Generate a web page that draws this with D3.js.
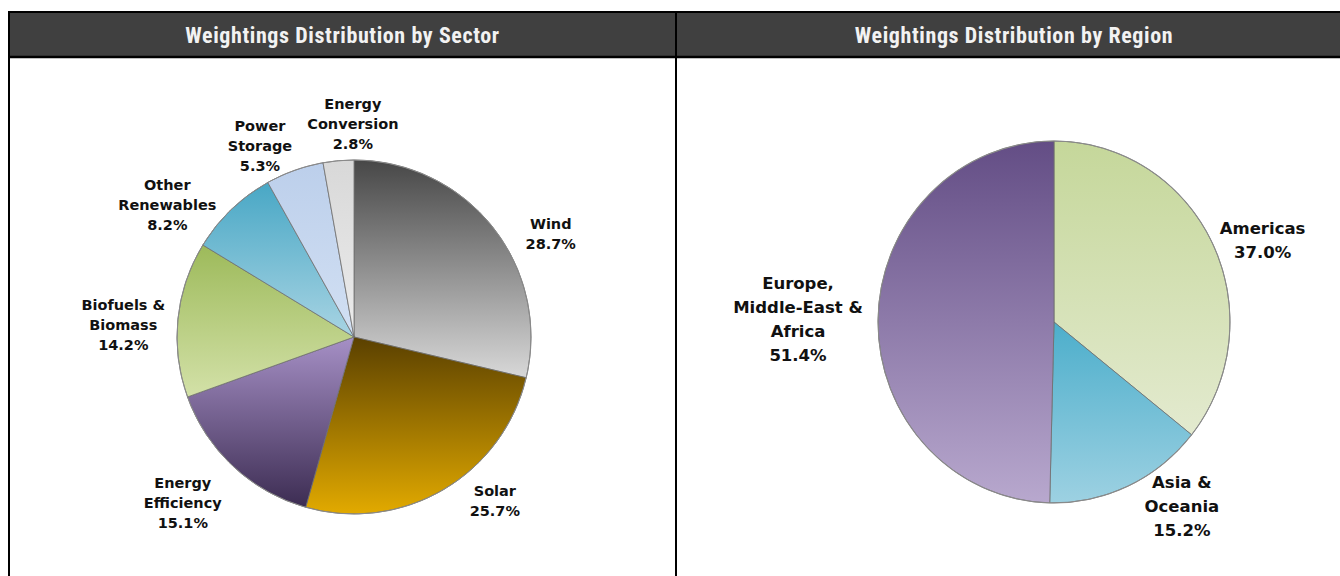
<!DOCTYPE html>
<html><head><meta charset="utf-8">
<script src="https://cdn.jsdelivr.net/npm/d3@7"></script>
<style>
html,body{margin:0;padding:0;background:#fff;}
svg{display:block;}
</style></head>
<body>
<svg id="c" width="1340" height="576"></svg>
<script>
// ---- data ----
const sectorNames = ["Wind","Solar","Energy Efficiency","Biofuels & Biomass","Other Renewables","Power Storage","Energy Conversion"];
const sectorLabelLines = [["Wind"],["Solar"],["Energy","Efficiency"],["Biofuels &","Biomass"],["Other","Renewables"],["Power","Storage"],["Energy","Conversion"]];
const sectorValues = [28.7,25.7,15.1,14.2,8.2,5.3,2.8];

const regionNames = ["Americas","Asia & Oceania","Europe, Middle-East & Africa"];
const regionLabelLines = [["Americas"],["Asia &","Oceania"],["Europe,","Middle-East &","Africa"]];
const regionValues = [37.0,15.2,51.4];

const titles = ["Weightings Distribution by Sector","Weightings Distribution by Region"];

// ---- styles / layout ----
const sectorColors = [["#474747","#d8d8d8"],["#5a4000","#e2aa00"],["#a690c6","#3c2c52"],["#9dba5a","#d3e1a8"],["#48a7c5","#a8d4e3"],["#bccfeb","#d2e0f3"],["#d8d8d8","#ececec"]];
const regionColors = [["#c5d79a","#e3eacf"],["#4caecb","#9dd1e2"],["#634d85","#b8a8ce"]];
// label block centre in polar form: [angle deg clockwise from north, distance px]
const sectorLabelPolar = [[62.4,222],[139.3,216],[226,238],[273,231],[305.4,229],[333.8,213],[359.7,213]];
const regionLabelPolar = [[68.6,224],[145.2,224],[270.7,256]];

const svg = d3.select("#c");
const defs = svg.append("defs");

// frame
const frame = svg.append("g");
frame.append("rect").attr("x",9).attr("y",12).attr("width",1345).attr("height",45).attr("fill","#404040");
frame.append("line").attr("x1",9).attr("x2",1354).attr("y1",12).attr("y2",12).attr("stroke","#000").attr("stroke-width",2);
frame.append("line").attr("x1",9).attr("x2",1354).attr("y1",57).attr("y2",57).attr("stroke","#000").attr("stroke-width",2.5);
frame.append("line").attr("x1",9).attr("x2",9).attr("y1",11).attr("y2",576).attr("stroke","#000").attr("stroke-width",2);
frame.append("line").attr("x1",676).attr("x2",676).attr("y1",11).attr("y2",576).attr("stroke","#000").attr("stroke-width",2);
frame.selectAll("text.title").data(titles).join("text")
  .attr("class","title")
  .attr("x",(d,i)=> i===0 ? 342.5 : 1014)
  .attr("y",43)
  .attr("text-anchor","middle")
  .attr("fill","#f2f2f2")
  .attr("font-family","'Liberation Sans Narrow','Arial Narrow','Roboto Condensed','Liberation Sans',sans-serif")
  .attr("font-weight","bold")
  .attr("font-size",22)
  .attr("letter-spacing",0.6)
  .text(d=>d);

function makeGrad(id, c){
  const g = defs.append("linearGradient").attr("id",id).attr("x1",0).attr("y1",0).attr("x2",0).attr("y2",1);
  g.append("stop").attr("offset","0%").attr("stop-color",c[0]);
  g.append("stop").attr("offset","100%").attr("stop-color",c[1]);
}

function drawPie(opts){
  const {cx, cy, r, sy, names, values, colors, lines, polar, prefix, fontSize, lineH} = opts;
  const pie = d3.pie().sort(null).value(d=>d.v);
  const data = pie(names.map((n,i)=>({name:n, v:values[i], i})));
  const arc = d3.arc().innerRadius(0).outerRadius(r);
  colors.forEach((c,i)=>makeGrad(prefix+i, c));
  const g = svg.append("g").attr("transform",`translate(${cx},${cy}) scale(1,${sy})`);
  g.selectAll("path").data(data).join("path")
    .attr("d",arc)
    .attr("fill",d=>`url(#${prefix}${d.data.i})`)
    .attr("stroke","#6e6e6e")
    .attr("stroke-width",0.8);
  g.append("circle").attr("r",r).attr("fill","none").attr("stroke","#8a8a8a").attr("stroke-width",1);

  const lg = svg.append("g");
  data.forEach((d,i)=>{
    const [ang, dist] = polar[i];
    const a = ang*Math.PI/180;
    const x = cx + dist*Math.sin(a);
    const y = cy - dist*Math.cos(a);
    const ls = lines[i].concat([d3.format(".1f")(values[i])+"%"]);
    const t = lg.append("text")
      .attr("text-anchor","middle")
      .attr("font-family","'DejaVu Sans',sans-serif")
      .attr("font-weight","bold")
      .attr("font-size",fontSize)
      .attr("fill","#111");
    const n = ls.length;
    ls.forEach((s,k)=>{
      t.append("tspan").attr("x",x)
        .attr("y", y + (k - (n-1)/2)*lineH + fontSize*0.36)
        .text(s);
    });
  });
}

drawPie({cx:354, cy:337, r:177, sy:1, names:sectorNames, values:sectorValues, colors:sectorColors,
  lines:sectorLabelLines, polar:sectorLabelPolar, prefix:"sg", fontSize:14.5, lineH:20});
drawPie({cx:1054, cy:322, r:176, sy:1.028, names:regionNames, values:regionValues, colors:regionColors,
  lines:regionLabelLines, polar:regionLabelPolar, prefix:"rg", fontSize:16.5, lineH:24});
</script>
</body></html>
